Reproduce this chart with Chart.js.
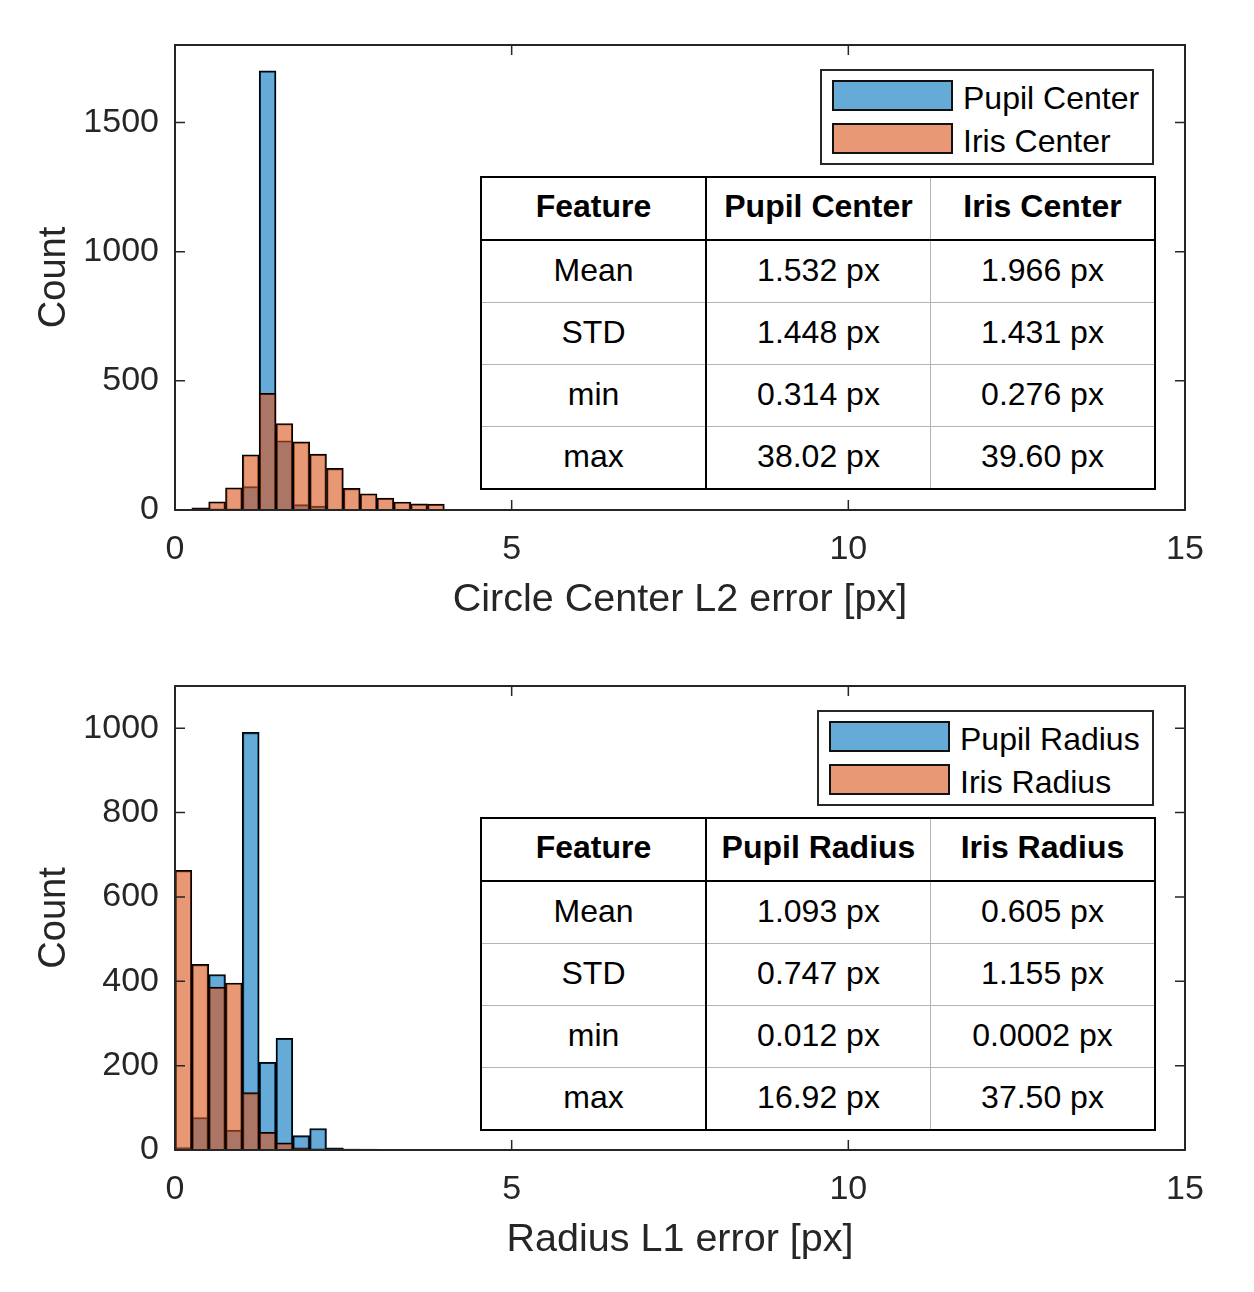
<!DOCTYPE html>
<html>
<head>
<meta charset="utf-8">
<script src="https://cdn.jsdelivr.net/npm/chart.js@4"></script>
<style>
  body { margin: 0; background: #fff; font-family: "Liberation Sans", Arial, sans-serif; }
  #page { position: relative; width: 1254px; height: 1292px; }
  canvas { position: absolute; left: 0; }
  .legend { position: absolute; box-sizing: border-box; border: 2px solid #262626; background: #fff; }
  .legend .item { position: absolute; left: 10px; height: 31px; }
  .legend .sw { position: absolute; left: 0; top: 0; width: 121px; height: 31px; box-sizing: border-box; border: 2px solid #111; }
  .legend .lbl { position: absolute; left: 131px; top: 0; font-size: 32px; white-space: nowrap; color: #000; line-height: 36px; }
  table.stats { position: absolute; border-collapse: collapse; table-layout: fixed; background: #fff; font-size: 32px; color: #000; }
  table.stats td, table.stats th { width: 223px; padding: 0; text-align: center; border: 1px solid #b4b4b4; }
  table.stats th { font-weight: bold; border-bottom: 2px solid #000; height: 56px; padding-bottom: 5px; }
  table.stats td { height: 58px; padding-bottom: 3px; }
  table.stats td:first-child, table.stats th:first-child { border-right: 2px solid #000; }
  table.stats { border: 2px solid #000; }
</style>
</head>
<body>
<div id="page">
  <canvas id="top" width="1254" height="646" style="top:0"></canvas>
  <canvas id="bottom" width="1254" height="646" style="top:646px"></canvas>
</div>
<script>
// histogram bins (centres, width 0.25 px)
const centreBins = [0.375, 0.625, 0.875, 1.125, 1.375, 1.625, 1.875, 2.125, 2.375, 2.625, 2.875,
  3.125, 3.375, 3.625, 3.875, 4.125, 4.375, 4.625, 4.875, 5.125, 5.375, 5.625];
const pupilCenter = [3, 5, 5, 91, 1700, 268, 21, 15, 4, 2, 2, 1, 1, 1, 1, 0, 1, 0, 0, 0, 0, 0];
const irisCenter = [8, 32, 86, 214, 452, 335, 264, 216, 161, 84, 63, 46, 31, 24, 23, 3, 3, 2, 2, 1, 1, 1];

const radiusBins = [0.125, 0.375, 0.625, 0.875, 1.125, 1.375, 1.625, 1.875, 2.125, 2.375, 2.625,
  2.875, 3.125, 3.375, 3.625, 3.875];
const pupilRadius = [6, 77, 416, 47, 990, 208, 265, 34, 51, 5, 2, 1, 1, 1, 0, 0];
const irisRadius = [663, 440, 386, 396, 136, 42, 17, 5, 3, 3, 2, 2, 1, 1, 1, 1];

const xTicks = [0, 5, 10, 15];
const yTicksTop = [0, 500, 1000, 1500];
const yTicksBottom = [0, 200, 400, 600, 800, 1000];

const statRows = ['Mean', 'STD', 'min', 'max'];
const centreStats = {
  header: ['Feature', 'Pupil Center', 'Iris Center'],
  pupil: ['1.532 px', '1.448 px', '0.314 px', '38.02 px'],
  iris: ['1.966 px', '1.431 px', '0.276 px', '39.60 px']
};
const radiusStats = {
  header: ['Feature', 'Pupil Radius', 'Iris Radius'],
  pupil: ['1.093 px', '0.747 px', '0.012 px', '16.92 px'],
  iris: ['0.605 px', '1.155 px', '0.0002 px', '37.50 px']
};

const BLUE = 'rgba(0,114,189,0.6)';
const ORANGE = 'rgba(217,83,25,0.6)';
const AXIS = '#262626';
const FONT = '"Liberation Sans", Arial, sans-serif';

// box round the plot with inward ticks on all four sides
const frame = {
  id: 'frame',
  afterDatasetsDraw(chart) {
    const { ctx, chartArea: a, scales } = chart;
    ctx.save();
    ctx.strokeStyle = AXIS;
    ctx.lineWidth = 2;
    ctx.strokeRect(a.left, a.top, a.right - a.left, a.bottom - a.top);
    ctx.lineWidth = 1.5;
    ctx.beginPath();
    scales.x.ticks.forEach(t => {
      const px = scales.x.getPixelForValue(t.value);
      ctx.moveTo(px, a.bottom); ctx.lineTo(px, a.bottom - 10);
      ctx.moveTo(px, a.top); ctx.lineTo(px, a.top + 10);
    });
    scales.y.ticks.forEach(t => {
      const py = scales.y.getPixelForValue(t.value);
      ctx.moveTo(a.left, py); ctx.lineTo(a.left + 10, py);
      ctx.moveTo(a.right, py); ctx.lineTo(a.right - 10, py);
    });
    ctx.stroke();
    ctx.restore();
  }
};

function makeHist(id, bins, blue, orange, opts) {
  return new Chart(document.getElementById(id), {
    type: 'bar',
    data: {
      datasets: [
        { label: opts.names[0], data: bins.map((x, i) => ({ x, y: blue[i] })), backgroundColor: BLUE,
          borderColor: '#000', borderWidth: 1.5, order: 2 },
        { label: opts.names[1], data: bins.map((x, i) => ({ x, y: orange[i] })), backgroundColor: ORANGE,
          borderColor: '#000', borderWidth: 1.5, order: 1 }
      ]
    },
    options: {
      responsive: false,
      animation: false,
      devicePixelRatio: 1,
      grouped: false,
      barPercentage: 1,
      categoryPercentage: 1,
      layout: { padding: { top: opts.padTop, right: 69, left: 0, bottom: 0 } },
      plugins: { legend: { display: false }, tooltip: { enabled: false } },
      scales: {
        x: {
          type: 'linear', min: 0, max: 15, offset: false,
          grid: { display: false }, border: { display: false },
          ticks: { color: AXIS, padding: 11, font: { family: FONT, size: 34 }, callback: v => String(v) },
          afterBuildTicks: s => { s.ticks = xTicks.map(v => ({ value: v })); },
          title: { display: true, text: opts.xTitle, color: AXIS, padding: { top: opts.xTitlePad, bottom: opts.xTitlePad },
            font: { family: FONT, size: 39.5 } },
          afterFit: s => { s.height = opts.xHeight; }
        },
        y: {
          min: 0, max: opts.yMax,
          grid: { display: false }, border: { display: false },
          ticks: { color: AXIS, padding: 8, font: { family: FONT, size: 34 }, callback: v => String(v) },
          afterBuildTicks: s => { s.ticks = opts.yTicks.map(v => ({ value: v })); },
          title: { display: true, text: 'Count', color: AXIS, padding: { top: 32, bottom: 32 },
            font: { family: FONT, size: 38 } },
          afterFit: s => { s.width = 175; }
        }
      }
    },
    plugins: [frame]
  });
}

function addLegend(names, left, top, width) {
  const box = document.createElement('div');
  box.className = 'legend';
  Object.assign(box.style, { left: left + 'px', top: top + 'px', width: width + 'px', height: '96px' });
  [BLUE, ORANGE].forEach((c, i) => {
    const item = document.createElement('div');
    item.className = 'item';
    item.style.top = (9 + i * 43) + 'px';
    item.innerHTML = '<div class="sw" style="background:' + c + '"></div><div class="lbl">' + names[i] + '</div>';
    box.appendChild(item);
  });
  document.getElementById('page').appendChild(box);
}

function addTable(stats, left, top) {
  const t = document.createElement('table');
  t.className = 'stats';
  t.style.left = left + 'px';
  t.style.top = top + 'px';
  let html = '<tr>' + stats.header.map(h => '<th>' + h + '</th>').join('') + '</tr>';
  statRows.forEach((r, i) => {
    html += '<tr><td>' + r + '</td><td>' + stats.pupil[i] + '</td><td>' + stats.iris[i] + '</td></tr>';
  });
  t.innerHTML = html;
  document.getElementById('page').appendChild(t);
}

makeHist('top', centreBins, pupilCenter, irisCenter, {
  names: ['Pupil Center', 'Iris Center'], padTop: 45, xHeight: 136, xTitlePad: 22,
  xTitle: 'Circle Center L2 error [px]', yMax: 1800, yTicks: yTicksTop
});
makeHist('bottom', radiusBins, pupilRadius, irisRadius, {
  names: ['Pupil Radius', 'Iris Radius'], padTop: 40, xHeight: 142, xTitlePad: 28,
  xTitle: 'Radius L1 error [px]', yMax: 1100, yTicks: yTicksBottom
});

addLegend(['Pupil Center', 'Iris Center'], 820, 69, 334);
addLegend(['Pupil Radius', 'Iris Radius'], 817, 710, 337);
addTable(centreStats, 480, 176);
addTable(radiusStats, 480, 817);
</script>
</body>
</html>
